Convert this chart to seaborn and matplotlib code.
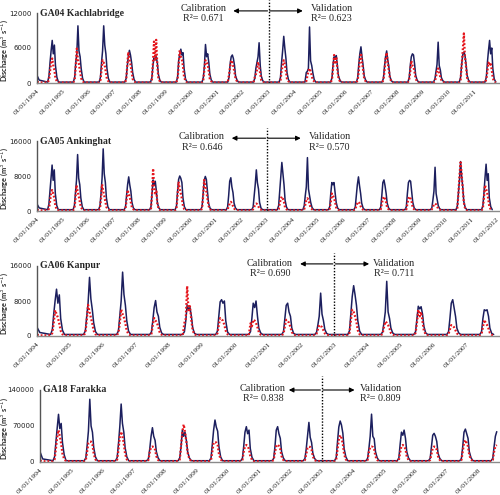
import numpy as np
import pandas as pd
import matplotlib
matplotlib.use("Agg")
import matplotlib.pyplot as plt
import matplotlib.dates as mdates
import seaborn as sns

# ---------------- data ----------------
MONSOON_DAYS = ["06-20", "07-05", "07-20", "08-05", "08-20", "09-05", "09-20", "10-10"]

STATIONS = ["GA04 Kachlabridge", "GA05 Ankinghat", "GA06 Kanpur", "GA18 Farakka"]
R2_CAL = ["0.671", "0.646", "0.690", "0.838"]
R2_VAL = ["0.623", "0.570", "0.711", "0.809"]

YEARS_GA04 = list(range(1994, 2012))
OBS_GA04 = [
    [1200, 3500, 5500, 7300, 5000, 6500, 3000, 1000],
    [1000, 3500, 5000, 9800, 5500, 4500, 2500, 800],
    [1000, 3500, 5500, 9800, 6500, 5000, 2500, 800],
    [800, 2800, 4500, 5600, 4800, 3500, 1800, 600],
    [900, 3000, 4300, 4000, 4500, 3500, 1500, 500],
    [1000, 3800, 5000, 5800, 4800, 5200, 2500, 700],
    [1000, 3000, 6600, 4500, 5000, 3500, 1500, 500],
    [1000, 3300, 4500, 4800, 4200, 3000, 1200, 500],
    [800, 2500, 3500, 4500, 6900, 3000, 1200, 400],
    [1000, 3500, 5500, 8000, 6000, 4200, 1800, 600],
    [1800, 2000, 2500, 9600, 3800, 3000, 1800, 600],
    [900, 3200, 4500, 4200, 4700, 2800, 1200, 500],
    [900, 3200, 5000, 6200, 4500, 3000, 1200, 500],
    [800, 2800, 4500, 5500, 4000, 2800, 1100, 400],
    [900, 3000, 4500, 5000, 4800, 3200, 1300, 500],
    [700, 2000, 3200, 7000, 3000, 2200, 900, 400],
    [1000, 3200, 4800, 5300, 4800, 3200, 1300, 500],
    [1000, 3500, 5500, 7300, 5000, 6000, 2500, 700],
]
SIM_GA04 = [
    [500, 2000, 3500, 4200, 3000, 2200, 800, 300],
    [600, 2800, 5900, 4000, 3200, 2000, 800, 300],
    [500, 2200, 3900, 3500, 3000, 1800, 700, 300],
    [500, 2800, 5300, 4000, 3200, 2000, 700, 300],
    [600, 3500, 7100, 4000, 7400, 3000, 900, 300],
    [700, 3000, 5600, 4500, 4000, 2800, 1000, 400],
    [600, 2500, 3900, 3500, 3200, 2000, 700, 300],
    [1500, 2800, 3900, 3500, 2800, 1800, 700, 300],
    [1000, 1500, 2200, 3600, 2800, 1600, 500, 300],
    [500, 2000, 3000, 3900, 3200, 2000, 700, 300],
    [300, 1200, 2000, 2500, 2000, 1300, 500, 300],
    [600, 2500, 4800, 3500, 4500, 2200, 800, 300],
    [500, 2000, 4000, 5100, 3500, 2200, 800, 300],
    [500, 2000, 4000, 5200, 3500, 2200, 800, 300],
    [600, 2000, 3800, 3000, 2800, 1800, 700, 300],
    [300, 1000, 2000, 2500, 1800, 1000, 500, 300],
    [600, 3000, 5500, 8500, 4500, 2800, 900, 300],
    [600, 2000, 3500, 3000, 3500, 2200, 800, 300],
]

YEARS_GA05 = list(range(1994, 2012))
OBS_GA05 = [
    [1500, 4500, 7500, 10500, 7000, 9400, 4000, 1300],
    [1200, 4000, 7000, 12900, 7500, 6000, 3000, 1000],
    [1200, 4000, 7500, 14200, 8500, 6500, 3000, 1000],
    [900, 3500, 6000, 7800, 6000, 4500, 2000, 700],
    [1000, 4000, 7100, 6000, 6800, 4500, 1800, 700],
    [1200, 4500, 7200, 8000, 7500, 6500, 3000, 1000],
    [1000, 4000, 7000, 7900, 7200, 4500, 1800, 700],
    [900, 3500, 6800, 7600, 5500, 4200, 1800, 700],
    [900, 3500, 6000, 9400, 6500, 5000, 2000, 700],
    [1200, 4500, 8000, 11100, 8500, 6000, 2500, 900],
    [1200, 3500, 5500, 12200, 5000, 3500, 2000, 800],
    [1000, 4000, 6500, 6000, 6500, 4200, 2000, 700],
    [900, 3500, 6000, 7800, 5800, 4000, 1800, 700],
    [900, 3500, 6500, 7100, 5800, 4000, 1800, 700],
    [1000, 4000, 6500, 7000, 6800, 4200, 2000, 700],
    [700, 2500, 4500, 10000, 4000, 2500, 1200, 500],
    [1200, 4000, 7000, 11300, 8000, 5500, 2200, 800],
    [1200, 4000, 7500, 10700, 7000, 8500, 3000, 1000],
]
SIM_GA05 = [
    [500, 2000, 4000, 4800, 4000, 3000, 1200, 400],
    [500, 2800, 5900, 4500, 3500, 2200, 900, 400],
    [500, 2800, 6100, 4500, 3500, 2200, 900, 400],
    [500, 2500, 4800, 4000, 3200, 2000, 800, 400],
    [600, 4000, 9700, 5500, 4000, 4500, 1500, 400],
    [600, 3500, 6700, 5000, 4000, 2800, 1200, 400],
    [600, 3500, 7100, 5500, 4500, 2800, 1200, 400],
    [400, 1000, 1800, 2100, 1800, 1100, 600, 300],
    [400, 900, 1500, 1700, 1500, 1000, 500, 300],
    [400, 1600, 2800, 3300, 2800, 2000, 800, 400],
    [400, 1500, 2500, 2900, 2500, 1600, 700, 400],
    [500, 2000, 4000, 3500, 3000, 2000, 800, 400],
    [400, 1100, 1800, 2100, 1800, 1100, 600, 300],
    [400, 1600, 2800, 3300, 2800, 2000, 700, 400],
    [400, 1600, 2800, 3300, 2800, 2000, 700, 400],
    [400, 900, 1500, 1700, 1500, 1000, 500, 300],
    [700, 4000, 8000, 11100, 8500, 5000, 2000, 500],
    [600, 3000, 5900, 5000, 4200, 2800, 1000, 400],
]

YEARS_GA06 = list(range(1994, 2008))
OBS_GA06 = [
    [1500, 5000, 8000, 10700, 7500, 9400, 4000, 1300],
    [1200, 4500, 7500, 13400, 8500, 6000, 3000, 1000],
    [1200, 4500, 8000, 14600, 9500, 7000, 3500, 1100],
    [900, 3500, 6500, 8100, 5500, 4500, 2000, 700],
    [1000, 3500, 7100, 6000, 6500, 4500, 1800, 600],
    [1100, 4500, 7800, 8300, 7500, 8000, 3500, 900],
    [1000, 4000, 7500, 6500, 8000, 4500, 1800, 700],
    [1000, 4000, 7000, 7500, 5500, 4500, 1800, 600],
    [800, 2500, 4500, 9800, 5000, 3500, 1500, 600],
    [1200, 5000, 9000, 11500, 9500, 7000, 3500, 1100],
    [900, 3000, 5500, 12500, 5500, 4000, 1800, 700],
    [1000, 4000, 6800, 6200, 6700, 5000, 2200, 700],
    [1000, 4000, 7500, 8300, 6500, 4500, 1800, 700],
    [1000, 4000, 6000, 5800, 6000, 4500, 1800, 600],
]
SIM_GA06 = [
    [700, 3000, 5900, 5000, 4200, 2800, 1200, 400],
    [700, 3500, 7100, 5500, 4200, 2800, 1200, 400],
    [700, 3000, 6100, 5000, 4200, 2800, 1200, 400],
    [500, 2500, 4100, 3500, 3000, 2000, 800, 300],
    [3000, 4000, 11400, 5500, 6800, 3500, 1200, 400],
    [600, 2500, 4100, 3800, 3500, 2500, 1200, 400],
    [2900, 2200, 3700, 3500, 3000, 2000, 900, 300],
    [500, 2200, 3700, 3500, 3000, 2000, 900, 300],
    [500, 1500, 2500, 2300, 2000, 1300, 600, 300],
    [700, 3500, 6000, 5500, 4500, 3200, 1300, 400],
    [500, 2000, 3300, 3000, 2500, 1700, 700, 300],
    [700, 3000, 6000, 4500, 5500, 3200, 1200, 400],
    [500, 1500, 2500, 2300, 2000, 1300, 600, 300],
    [500, 2000, 3700, 3000, 2500, 1700, 700, 300],
]

YEARS_GA18 = list(range(1994, 2009))
OBS_GA18 = [
    [10000, 38000, 65000, 92700, 65000, 75000, 38000, 14000],
    [8000, 32000, 60000, 122000, 70000, 58000, 28000, 10000],
    [9000, 36000, 68000, 112700, 75000, 58000, 28000, 10000],
    [7000, 26000, 50000, 66700, 50000, 42000, 20000, 8000],
    [8000, 30000, 62000, 50000, 58000, 42000, 20000, 8000],
    [8000, 36000, 62000, 81600, 68000, 60000, 30000, 10000],
    [7000, 30000, 58000, 68700, 55000, 62000, 26000, 9000],
    [7000, 30000, 62000, 68700, 55000, 46000, 20000, 8000],
    [7000, 26000, 50000, 77000, 48000, 38000, 17000, 7000],
    [9000, 40000, 68000, 79700, 72000, 56000, 26000, 10000],
    [7000, 26000, 50000, 93000, 50000, 45000, 20000, 8000],
    [8000, 35000, 58000, 52000, 62000, 46000, 20000, 8000],
    [7000, 30000, 52000, 55700, 50000, 40000, 17000, 7000],
    [7000, 30000, 58000, 64000, 55000, 46000, 20000, 8000],
    [7000, 30000, 50000, 59000],
]
SIM_GA18 = [
    [5000, 25000, 48000, 62000, 50000, 36000, 16000, 6000],
    [4000, 20000, 37000, 39500, 39500, 34000, 16000, 5000],
    [5000, 25000, 48000, 59000, 50000, 36000, 16000, 5000],
    [4000, 20000, 29000, 30000, 29000, 24000, 11000, 4000],
    [5000, 30000, 58000, 73000, 58000, 40000, 18000, 6000],
    [4000, 20000, 38000, 38000, 38000, 33000, 16000, 5000],
    [4000, 19000, 31000, 33000, 31000, 25000, 11000, 4000],
    [4000, 19000, 31000, 34000, 31000, 25000, 11000, 4000],
    [4000, 16000, 27000, 30000, 29000, 24000, 11000, 4000],
    [5000, 25000, 43000, 52000, 47000, 35000, 15000, 5000],
    [4000, 19000, 29000, 30000, 29000, 24000, 11000, 4000],
    [4000, 19000, 31000, 33000, 31000, 25000, 11000, 4000],
    [4000, 16000, 27000, 30000, 29000, 24000, 11000, 4000],
    [4000, 20000, 37000, 42700, 37000, 30000, 13000, 5000],
    [4000, 20000, 31000, 33000],
]

BASE_OBS = [150, 300, 350, 2500]
BASE_SIM = [80, 150, 150, 1500]
START_OBS = [[1300, 500], [1600, 700], [2000, 800], [20000, 6000]]
START_SIM = [[200, 100], [300, 150], [300, 150], [3000, 1500]]

Y_MAX = [12000, 16000, 16000, 140000]
Y_TICKS = [[0, 6000, 12000], [0, 8000, 16000], [0, 8000, 16000], [0, 70000, 140000]]
TICK_YEARS = [list(range(1994, 2012)), list(range(1994, 2013)),
              list(range(1994, 2008)), list(range(1994, 2009))]
X_END = ["2011-12-31", "2012-02-20", "2008-01-10", "2008-09-12"]

ALL_YEARS = [YEARS_GA04, YEARS_GA05, YEARS_GA06, YEARS_GA18]
ALL_OBS = [OBS_GA04, OBS_GA05, OBS_GA06, OBS_GA18]
ALL_SIM = [SIM_GA04, SIM_GA05, SIM_GA06, SIM_GA18]


def build(i):
    rows = []
    for k, y in enumerate(ALL_YEARS[i]):
        if k == 0:
            rows.append((f"{y}-01-01", START_OBS[i][0], START_SIM[i][0]))
            rows.append((f"{y}-02-01", START_OBS[i][1], START_SIM[i][1]))
        else:
            rows.append((f"{y}-01-01", BASE_OBS[i], BASE_SIM[i]))
        rows.append((f"{y}-06-01", BASE_OBS[i], BASE_SIM[i]))
        ob = ALL_OBS[i][k]
        sm = ALL_SIM[i][k]
        for d, o, s in zip(MONSOON_DAYS, ob, sm):
            rows.append((f"{y}-{d}", o, s))
        if len(ob) == len(MONSOON_DAYS):
            rows.append((f"{y}-11-01", BASE_OBS[i], BASE_SIM[i]))
    df = pd.DataFrame(rows, columns=["date", "obs", "sim"])
    df["date"] = pd.to_datetime(df["date"])
    return df


# ---------------- layout ----------------
sns.set_style("white")
plt.rcParams["font.family"] = ["DejaVu Sans"]

W, H = 500, 495
fig = plt.figure(figsize=(5.0, 4.95), dpi=100)

# (left px, top px, bottom px)
PANEL_PX = [(37, 13, 83), (37, 141, 211), (37, 266, 336), (40, 390, 462)]
# (calib center offset yrs, valid center offset yrs, left arrow yrs, right arrow yrs)
ANN = [(2.54, 2.46, 1.37, 1.33), (2.54, 2.46, 1.37, 1.33),
       (1.94, 1.82, 1.03, 1.06), (1.88, 1.88, 1.05, 1.05)]
ANN_Y = [(1.03, 1.07, 0.92), (1.04, 1.07, 0.91), (1.03, 1.04, 0.89), (1.0, 1.02, 0.88)]

NAVY = "#1c1f5e"
RED = "#e5161d"
SERIF = "Liberation Serif"
LABEL_FONT = ["Liberation Sans Narrow", "Lato"]

for i in range(4):
    lx, ty, by = PANEL_PX[i]
    ax = fig.add_axes([lx / W, 1 - by / H, (W - lx) / W, (by - ty) / H])
    df = build(i)
    sns.lineplot(data=df, x="date", y="obs", ax=ax, color=NAVY, lw=1.1,
                 estimator=None, legend=False)
    sns.lineplot(data=df, x="date", y="sim", ax=ax, color=RED, lw=1.6,
                 estimator=None, legend=False, linestyle=(0, (0.8, 0.9)))

    x0 = pd.Timestamp("1994-01-01")
    x1 = pd.Timestamp(X_END[i])
    ax.set_xlim(x0, x1)
    ax.set_ylim(0, Y_MAX[i])
    ax.set_yticks(Y_TICKS[i])
    ax.set_yticklabels([str(v) for v in Y_TICKS[i]], fontsize=5.0, color="#222222")
    ticks = [pd.Timestamp(f"{y}-01-01") for y in TICK_YEARS[i]]
    ax.set_xticks(ticks)
    ax.set_xticklabels([t.strftime("%d/%m/%Y") for t in ticks], rotation=45,
                       ha="right", rotation_mode="anchor", fontsize=5.3,
                       family=SERIF, color="#222222")
    ax.set_xlabel("")
    ax.set_ylabel("Discharge (m$^3$ s$^{-1}$)", fontsize=5.3, fontweight="bold",
                  family=LABEL_FONT)
    ax.yaxis.set_label_coords((10.5 - lx) / (W - lx), 0.47)
    for s in ["top", "right"]:
        ax.spines[s].set_visible(False)
    ax.spines["left"].set_color("#555555")
    ax.spines["bottom"].set_color("#8a8a8a")
    ax.spines["left"].set_linewidth(1.0)
    ax.spines["bottom"].set_linewidth(1.0)
    ax.tick_params(axis="both", direction="out", length=2.5, width=0.8,
                   colors="#555555", pad=1.5)
    ax.tick_params(axis="x", labelcolor="#222222")
    ax.tick_params(axis="y", labelcolor="#222222")

    ax.text(0.006, 1.0, STATIONS[i], transform=ax.transAxes, ha="left",
            va="center", fontsize=7.0, fontweight="bold", family=SERIF)

    split = pd.Timestamp("2003-01-01")
    sx = mdates.date2num(split)
    ax.plot([split, split], [0, 1.19], transform=ax.get_xaxis_transform(),
            color="black", lw=1.0, ls=(0, (1, 1.2)), clip_on=False)
    cal_off, val_off, la, ra = ANN[i]
    ay, ty1, ty2 = ANN_Y[i]
    trans = ax.get_xaxis_transform()
    ax.annotate("", xy=(sx - la * 365.25, ay), xytext=(sx - 0.04 * 365.25, ay),
                xycoords=trans, textcoords=trans, annotation_clip=False,
                arrowprops=dict(arrowstyle="-|>", color="black", lw=0.8,
                                mutation_scale=7, shrinkA=0, shrinkB=0))
    ax.annotate("", xy=(sx + ra * 365.25, ay), xytext=(sx + 0.04 * 365.25, ay),
                xycoords=trans, textcoords=trans, annotation_clip=False,
                arrowprops=dict(arrowstyle="-|>", color="black", lw=0.8,
                                mutation_scale=7, shrinkA=0, shrinkB=0))
    cx = sx - cal_off * 365.25
    vx = sx + val_off * 365.25
    ax.text(cx, ty1, "Calibration", transform=trans, ha="center", va="center",
            fontsize=7.3, family=SERIF, clip_on=False)
    ax.text(cx, ty2, f"R\u00b2= {R2_CAL[i]}", transform=trans, ha="center",
            va="center", fontsize=7.3, family=SERIF, clip_on=False)
    ax.text(vx, ty1, "Validation", transform=trans, ha="center", va="center",
            fontsize=7.3, family=SERIF, clip_on=False)
    ax.text(vx, ty2, f"R\u00b2= {R2_VAL[i]}", transform=trans, ha="center",
            va="center", fontsize=7.3, family=SERIF, clip_on=False)

fig.savefig("out.png", dpi=100)
